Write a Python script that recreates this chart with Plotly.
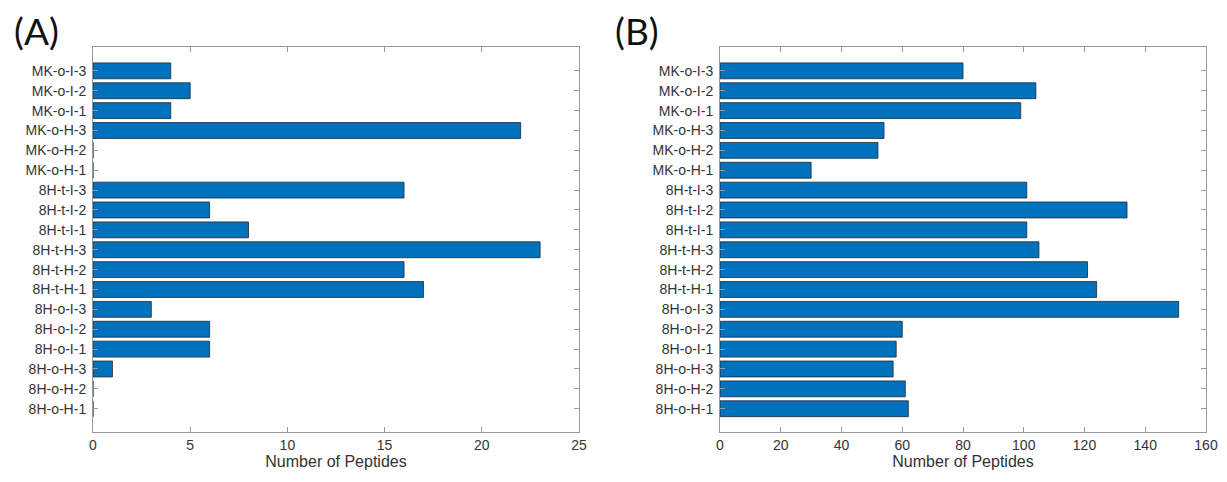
import plotly.graph_objects as go
from plotly.subplots import make_subplots

# Sample labels, bottom to top
samples = [
    "8H-o-H-1", "8H-o-H-2", "8H-o-H-3", "8H-o-I-1", "8H-o-I-2", "8H-o-I-3",
    "8H-t-H-1", "8H-t-H-2", "8H-t-H-3", "8H-t-I-1", "8H-t-I-2", "8H-t-I-3",
    "MK-o-H-1", "MK-o-H-2", "MK-o-H-3", "MK-o-I-1", "MK-o-I-2", "MK-o-I-3",
]

# Peptide counts per sample, same order as samples
peptides_a = [0, 0, 1, 6, 6, 3, 17, 16, 23, 8, 6, 16, 0, 0, 22, 4, 5, 4]
peptides_b = [62, 61, 57, 58, 60, 151, 124, 121, 105, 101, 134, 101, 30, 52, 54, 99, 104, 80]

x_ticks_a = [0, 5, 10, 15, 20, 25]
x_ticks_b = [0, 20, 40, 60, 80, 100, 120, 140, 160]

W, H = 1227, 482
BAR_COLOR = "#0072BD"
AXIS_COLOR = "#9a9a9a"
TEXT_COLOR = "#333333"
TICK_FONT = dict(family="Liberation Sans, Arial, sans-serif", size=14, color=TEXT_COLOR)
TITLE_FONT = dict(family="Liberation Sans, Arial, sans-serif", size=16, color=TEXT_COLOR)

fig = make_subplots(rows=1, cols=2, horizontal_spacing=0.1)

for col, vals in ((1, peptides_a), (2, peptides_b)):
    fig.add_trace(
        go.Bar(
            x=vals,
            y=samples,
            orientation="h",
            width=0.8,
            marker=dict(color=BAR_COLOR, line=dict(color="#1f2a33", width=0.8)),
            showlegend=False,
            hoverinfo="x+y",
        ),
        row=1, col=col,
    )

y_bottom = 1 - 432 / H
y_top = 1 - 47 / H

common_x = dict(
    showline=True, linecolor=AXIS_COLOR, linewidth=1, mirror="allticks",
    ticks="inside", ticklen=5, tickcolor=AXIS_COLOR, tickwidth=1,
    showgrid=False, zeroline=False, tickfont=TICK_FONT, automargin=False,
    title=dict(text="Number of Peptides", font=TITLE_FONT, standoff=3),
)
common_y = dict(
    showline=True, linecolor=AXIS_COLOR, linewidth=1, mirror="allticks",
    ticks="inside", ticklen=5, tickcolor=AXIS_COLOR, tickwidth=1,
    showgrid=False, zeroline=False, tickfont=TICK_FONT, automargin=False,
    type="category", categoryorder="array", categoryarray=samples,
    range=[-1.17, 18.2], ticklabelstandoff=3,
)

fig.update_xaxes(common_x)
fig.update_yaxes(common_y)

fig.update_layout(
    xaxis=dict(domain=[93 / W, 579 / W], range=[0, 25], tickvals=x_ticks_a),
    xaxis2=dict(domain=[720 / W, 1206 / W], range=[0, 160], tickvals=x_ticks_b),
    yaxis=dict(domain=[y_bottom, y_top]),
    yaxis2=dict(domain=[y_bottom, y_top]),
    width=W, height=H,
    margin=dict(l=0, r=0, t=0, b=0, pad=0),
    paper_bgcolor="white", plot_bgcolor="white",
    bargap=0.2,
)

panel_font = dict(family="Lato, Open Sans, sans-serif", size=37, color="#111111")
fig.add_annotation(text="(A)", x=36 / W, y=1 - 31 / H, xref="paper", yref="paper",
                   showarrow=False, font=panel_font, xanchor="center", yanchor="middle")
fig.add_annotation(text="(B)", x=637 / W, y=1 - 31 / H, xref="paper", yref="paper",
                   showarrow=False, font=panel_font, xanchor="center", yanchor="middle")

fig.write_html("out.html")
